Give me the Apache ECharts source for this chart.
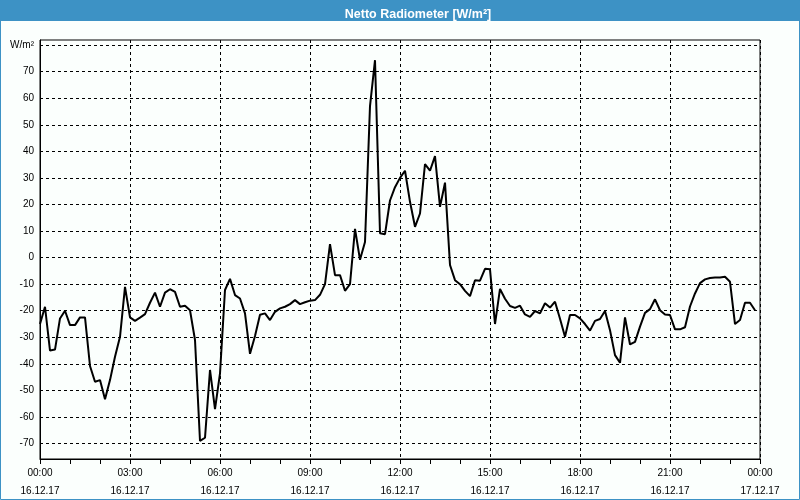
<!DOCTYPE html>
<html>
<head>
<meta charset="utf-8">
<script src="https://cdn.jsdelivr.net/npm/echarts@6/dist/echarts.min.js"></script>
<style>
html,body{margin:0;padding:0;background:#fbfffd;}
#c{width:800px;height:500px;}
</style>
</head>
<body>
<div id="c"></div>
<script>
// Time of day in minutes since 16.12.17 00:00
var minutes = [
  0,10,20,30,40,50,60,70,80,90,100,110,120,130,140,150,160,170,180,190,
  200,210,220,230,240,250,260,270,280,290,300,310,320,330,340,350,360,370,380,390,
  400,410,420,430,440,450,460,470,480,490,500,510,520,530,540,550,560,570,580,590,
  600,610,620,630,640,650,660,670,680,690,700,710,720,730,740,750,760,770,780,790,
  800,810,820,830,840,850,860,870,880,890,900,910,920,930,940,950,960,970,980,990,
  1000,1010,1020,1030,1040,1050,1060,1070,1080,1090,1100,1110,1120,1130,1140,1150,1160,1170,1180,1190,
  1200,1210,1220,1230,1240,1250,1260,1270,1280,1290,1300,1310,1320,1330,1340,1350,1360,1370,1380,1390,
  1400,1410,1420,1430
];
var values = [
  -25,-18.5,-35,-34.6,-22.9,-20,-25.4,-25.4,-22.5,-22.5,-40.8,-46.7,-46.1,-53.3,-46.1,-37.3,-29.8,-11,-22.5,-23.8,
  -22.6,-21.3,-17,-13.2,-18.5,-13.2,-11.9,-12.9,-18.5,-18.1,-19.8,-31,-69,-67.8,-42.3,-57,-43.6,-12.2,-8,-14.1,
  -15.4,-21,-36.2,-29.5,-21.5,-21,-23.5,-20.4,-19.1,-18.5,-17.5,-16,-17.5,-16.8,-16.2,-16,-14,-10,5.1,-6.6,
  -6.6,-12.5,-10,10.8,-0.8,5.9,57,74.3,9.2,8.8,21.5,26.5,30,32.7,21,11.6,16.6,35.2,32.7,38.2,
  19.1,28.2,-2.8,-8.5,-10,-12.5,-14.5,-8.5,-8.7,-4.2,-4.4,-25,-11.8,-15.5,-18.2,-18.9,-18.1,-21.4,-22.3,-20.1,
  -21,-17.2,-18.8,-16.6,-23,-29.8,-21.6,-21.6,-22.9,-25,-27.5,-23.8,-23.1,-20.1,-27.3,-36.7,-39.6,-22.5,-32.7,-31.7,
  -26,-20.8,-19.4,-15.7,-19.8,-21.4,-21.6,-27,-27,-26.2,-18.4,-13.5,-9.6,-8.2,-7.7,-7.5,-7.5,-7.2,-9.1,-25,
  -23.5,-17,-17,-19.8
];
var yTicks = [-70,-60,-50,-40,-30,-20,-10,0,10,20,30,40,50,60,70,80];
var yUnit = 'W/m²';
var dateLabels = ['16.12.17','17.12.17'];
var titleText = 'Netto Radiometer [W/m²]';

var data = minutes.map(function(m,i){return [m, values[i]];});
function pad(n){return (n<10?'0':'')+n;}

var chart = echarts.init(document.getElementById('c'), null, {renderer:'canvas'});
chart.setOption({
  backgroundColor:'#fbfffd',
  animation:false,
  graphic:[
    {type:'rect', shape:{x:0,y:0,width:800,height:21}, style:{fill:'#3d92c5'}, z:-1},
    {type:'rect', shape:{x:0.5,y:0.5,width:799,height:499}, style:{fill:'none',stroke:'#3d92c5',lineWidth:1}, z:-1}
  ],
  title:{
    text:titleText, left:413, top:3, textAlign:'center',
    textStyle:{color:'#ffffff', fontSize:12.5, fontWeight:'bold', fontFamily:'Liberation Sans'}
  },
  grid:{left:40,right:40,top:40,bottom:41,show:true,borderColor:'#000',borderWidth:1,
        backgroundColor:'transparent',containLabel:false,outerBoundsMode:'none'},
  xAxis:{
    type:'value', min:0, max:1440, interval:180,
    axisLine:{show:true,onZero:false,lineStyle:{color:'#000',width:1}},
    axisTick:{show:true,length:5,lineStyle:{color:'#000'}},
    minorTick:{show:true,splitNumber:3,length:5,lineStyle:{color:'#000'}},
    splitLine:{show:true,lineStyle:{color:'#000',type:[3,3],width:1}},
    axisLabel:{
      color:'#000', fontSize:10, fontFamily:'Liberation Sans', margin:5, lineHeight:18,
      formatter:function(v){
        var h = Math.floor(v/60)%24;
        var d = v>=1440 ? dateLabels[1] : dateLabels[0];
        return pad(h)+':00\n'+d;
      }
    }
  },
  yAxis:{
    type:'value', min:-75.8, max:81.9,
    axisLine:{show:true,onZero:false,lineStyle:{color:'#000',width:1}},
    axisTick:{show:true,length:0,customValues:yTicks},
    splitLine:{show:true,lineStyle:{color:'#000',type:[3,3],width:1}},
    axisLabel:{
      color:'#000', fontSize:10, fontFamily:'Liberation Sans', margin:6,
      customValues:yTicks,
      formatter:function(v){return v===80 ? yUnit : String(v);}
    }
  },
  series:[{
    type:'line', data:data, showSymbol:false, symbol:'none',
    lineStyle:{color:'#000',width:2}, itemStyle:{color:'#000'}
  }]
});
</script>
</body>
</html>
